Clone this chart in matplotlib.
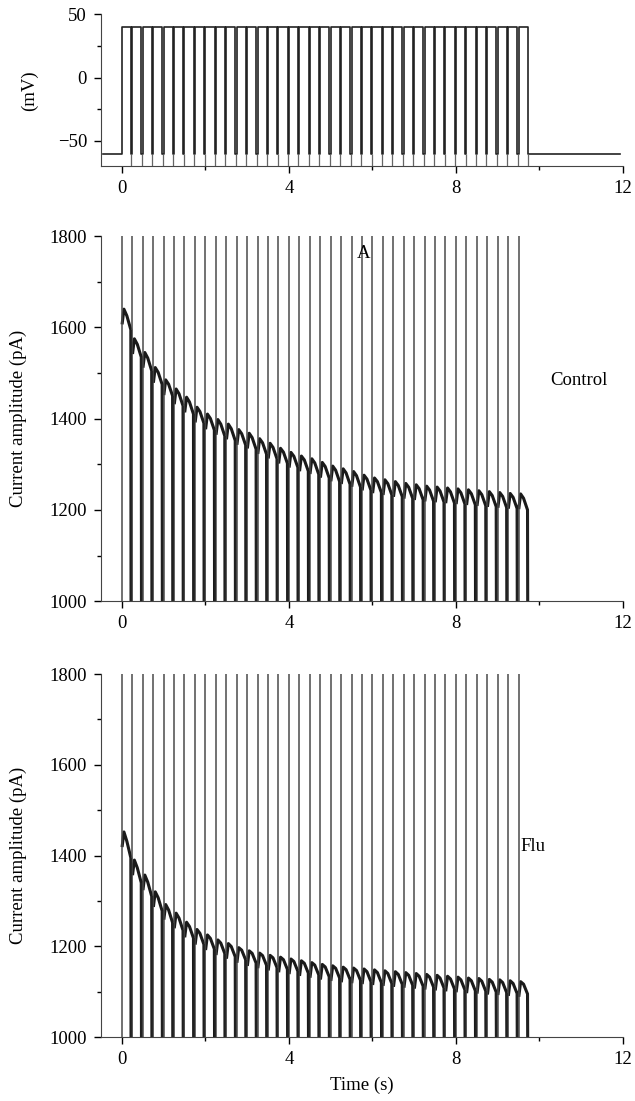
import numpy as np
import matplotlib
matplotlib.use('Agg')
from matplotlib import pyplot as plt
from matplotlib.ticker import MultipleLocator

plt.rcParams['font.family'] = ['Liberation Serif', 'DejaVu Serif']
plt.rcParams['font.size'] = 13.5

# Pulse train: 39 depolarising pulses at 4 Hz
pulse_start = [0.25 * k for k in range(39)]
pulse_len = 0.22
v_hold = -60
v_test = 40
t_rec_start = -0.45
t_rec_end = 11.93

# Peak current in each cycle, then value reached at the end of the cycle (pA)
ctrl_peak = [1640, 1575, 1545, 1512, 1485, 1465, 1447, 1425, 1410, 1398,
             1388, 1376, 1368, 1356, 1346, 1335, 1326, 1318, 1312, 1304,
             1296, 1290, 1284, 1276, 1270, 1266, 1262, 1258, 1255, 1252,
             1250, 1248, 1246, 1244, 1242, 1240, 1238, 1236, 1235]
ctrl_end = [1595, 1535, 1505, 1475, 1450, 1428, 1410, 1390, 1375, 1362,
            1352, 1342, 1333, 1322, 1312, 1302, 1293, 1285, 1278, 1270,
            1262, 1256, 1250, 1243, 1238, 1233, 1229, 1225, 1222, 1219,
            1217, 1215, 1213, 1211, 1209, 1207, 1205, 1203, 1200]
flu_peak = [1452, 1390, 1357, 1320, 1292, 1273, 1253, 1237, 1225, 1214,
            1206, 1197, 1190, 1185, 1180, 1176, 1172, 1168, 1164, 1160,
            1157, 1154, 1152, 1150, 1148, 1146, 1144, 1142, 1140, 1138,
            1136, 1134, 1132, 1130, 1129, 1127, 1126, 1124, 1122]
flu_end = [1395, 1340, 1310, 1278, 1252, 1235, 1218, 1204, 1194, 1184,
           1177, 1170, 1163, 1158, 1153, 1149, 1145, 1141, 1137, 1133,
           1130, 1127, 1125, 1122, 1120, 1118, 1116, 1114, 1112, 1110,
           1108, 1106, 1104, 1102, 1101, 1099, 1098, 1096, 1095]


def style(ax, ymin, ymax, major, minor):
    ax.spines['top'].set_visible(False)
    ax.spines['right'].set_visible(False)
    ax.set_xlim(-0.5, 12)
    ax.set_ylim(ymin, ymax)
    ax.xaxis.set_major_locator(MultipleLocator(4))
    ax.xaxis.set_minor_locator(MultipleLocator(2))
    ax.yaxis.set_major_locator(MultipleLocator(major))
    ax.yaxis.set_minor_locator(MultipleLocator(minor))
    ax.tick_params(which='major', direction='out', length=5, width=1, pad=5)
    ax.tick_params(which='minor', direction='out', length=3, width=1)
    ax.spines['left'].set_color('#444')
    ax.spines['bottom'].set_color('#444')


def current_panel(ax, peaks, ends):
    t, y = [], []
    for k, t0 in enumerate(pulse_start):
        t += [t0 + 0.01, t0 + 0.05, t0 + 0.12, t0 + pulse_len - 0.005, t0 + pulse_len]
        y += [peaks[k] - 30, peaks[k], (peaks[k] + ends[k]) / 2 + 8, ends[k], 980]
        t.append(np.nan)
        y.append(np.nan)
    ax.plot(t, y, color='#1a1a1a', lw=2.2)
    # capacitive spikes at each step
    ax.vlines(pulse_start, 990, 1900, color='#4a4a4a', lw=1.1)
    ax.vlines([p + pulse_len for p in pulse_start], 990, ends,
              color='#222', lw=1.1)
    style(ax, 1000, 1800, 200, 100)
    ax.set_ylabel('Current amplitude (pA)', labelpad=16)


fig = plt.figure(figsize=(6.35, 11.01), dpi=100)
ax1 = fig.add_axes([0.159, 0.849, 0.822, 0.138])
ax2 = fig.add_axes([0.159, 0.454, 0.822, 0.3315])
ax3 = fig.add_axes([0.159, 0.0581, 0.822, 0.3297])

# voltage protocol
tv = [t_rec_start, pulse_start[0]]
vv = [v_hold, v_hold]
for t0 in pulse_start:
    tv += [t0, t0 + pulse_len, t0 + pulse_len]
    vv += [v_test, v_test, v_hold]
    tv.append(t0 + 0.25 if t0 < pulse_start[-1] else t_rec_end)
    vv.append(v_hold)
ax1.plot(tv, vv, color='#222', lw=1.2)
ax1.vlines([p + pulse_len + 0.01 for p in pulse_start], -75, v_hold, color='#666', lw=0.9)
style(ax1, -70, 50, 50, 25)
ax1.set_ylabel('(mV)', labelpad=14)

current_panel(ax2, ctrl_peak, ctrl_end)
ax2.text(5.8, 1762, 'A', ha='center', va='center')
ax2.text(10.95, 1484, 'Control', ha='center', va='center')

current_panel(ax3, flu_peak, flu_end)
ax3.text(9.55, 1420, 'Flu', ha='left', va='center')
ax3.set_xlabel('Time (s)', labelpad=6)

plt.savefig('out.png', dpi=100)
